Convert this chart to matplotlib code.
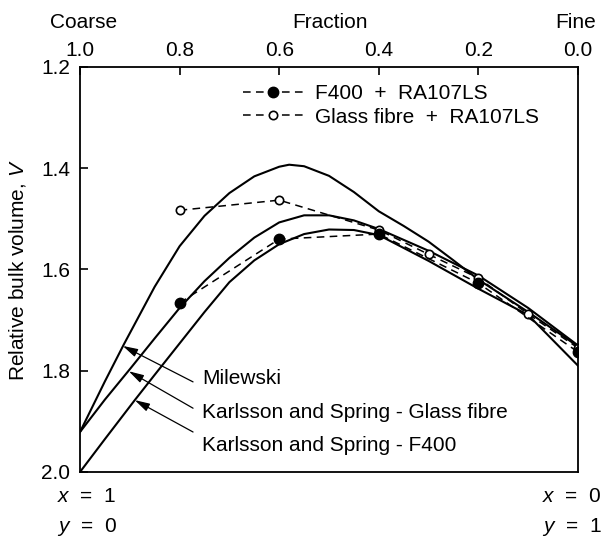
import matplotlib
matplotlib.use("Agg")
import matplotlib.pyplot as plt
from matplotlib.lines import Line2D

plt.rcParams['font.family'] = ['Liberation Sans', 'DejaVu Sans']
plt.rcParams['mathtext.fontset'] = 'custom'
plt.rcParams['mathtext.it'] = 'Liberation Sans:italic'
plt.rcParams['mathtext.rm'] = 'Liberation Sans'

# model curves: coarse fraction vs relative bulk volume
frac_mil = [1.0, 0.95, 0.912, 0.85, 0.80, 0.75, 0.70, 0.65, 0.60, 0.58, 0.55, 0.50,
            0.45, 0.40, 0.35, 0.30, 0.25, 0.20, 0.10, 0.0]
v_mil = [1.921, 1.821, 1.748, 1.634, 1.554, 1.494, 1.449, 1.416, 1.397, 1.393, 1.396, 1.415,
         1.447, 1.485, 1.514, 1.545, 1.582, 1.620, 1.684, 1.752]

frac_ksg = [1.0, 0.95, 0.90, 0.85, 0.80, 0.75, 0.70, 0.65, 0.60, 0.55, 0.50, 0.45,
            0.40, 0.30, 0.20, 0.10, 0.0]
v_ksg = [1.921, 1.857, 1.797, 1.736, 1.676, 1.623, 1.577, 1.537, 1.507, 1.493, 1.493, 1.503,
         1.520, 1.563, 1.612, 1.676, 1.750]

frac_ksf = [1.0, 0.95, 0.89, 0.85, 0.80, 0.75, 0.70, 0.65, 0.60, 0.55, 0.50, 0.45,
            0.40, 0.30, 0.20, 0.10, 0.0]
v_ksf = [2.0, 1.935, 1.858, 1.808, 1.746, 1.684, 1.625, 1.582, 1.550, 1.530, 1.521, 1.522,
         1.532, 1.583, 1.638, 1.690, 1.790]

# measured mixes
frac_f400 = [0.8, 0.6, 0.4, 0.2, 0.0]
v_f400 = [1.666, 1.540, 1.530, 1.627, 1.763]
frac_glass = [0.8, 0.6, 0.4, 0.3, 0.2, 0.1, 0.0]
v_glass = [1.483, 1.463, 1.522, 1.570, 1.617, 1.688, 1.755]

xticks = [1.0, 0.8, 0.6, 0.4, 0.2, 0.0]
yticks = [1.2, 1.4, 1.6, 1.8, 2.0]

fs = 15

fig = plt.figure(figsize=(6.06, 5.37), dpi=100)
ax = fig.add_axes([80/606, 1-472/537, 498/606, 405/537])

ax.plot(frac_mil, v_mil, 'k-', lw=1.5)
ax.plot(frac_ksg, v_ksg, 'k-', lw=1.5)
ax.plot(frac_ksf, v_ksf, 'k-', lw=1.5)

dash = (5, 3.5)
ax.plot(frac_glass, v_glass, color='k', ls='--', dashes=dash, lw=1.1,
        marker='o', ms=6, mfc='white', mec='k', mew=1.2)
ax.plot(frac_f400, v_f400, color='k', ls='--', dashes=dash, lw=1.1,
        marker='o', ms=7.5, mfc='k', mec='k')

ax.set_xlim(1.0, 0.0)
ax.set_ylim(2.0, 1.2)
ax.xaxis.tick_top()
ax.set_xticks(xticks)
ax.set_xticklabels(['%.1f' % t for t in xticks])
ax.set_yticks(yticks)
ax.set_yticklabels(['%.1f' % t for t in yticks])
ax.tick_params(axis='x', direction='in', length=6, width=1.2, pad=5, labelsize=fs)
ax.tick_params(axis='y', direction='in', length=6, width=1.2, pad=7, labelsize=fs)
for s in ax.spines.values():
    s.set_linewidth(1.3)

handles = [
    Line2D([], [], color='k', ls='--', dashes=dash, lw=1.1, marker='o', ms=7.5, mfc='k', mec='k'),
    Line2D([], [], color='k', ls='--', dashes=dash, lw=1.1, marker='o', ms=6, mfc='white', mec='k', mew=1.2),
]
ax.legend(handles, ['F400  +  RA107LS', 'Glass fibre  +  RA107LS'], loc='upper left',
          bbox_to_anchor=(243/606, 1-84/537), bbox_transform=fig.transFigure,
          frameon=False, fontsize=fs, numpoints=1, handlelength=2.9, handletextpad=0.55,
          borderpad=0, borderaxespad=0, labelspacing=0.22)

# labels with arrows pointing at the model curves
notes = [('Milewski', 1.816, (0.914, 1.751), (0.773, 1.822)),
         ('Karlsson and Spring - Glass fibre', 1.883, (0.902, 1.801), (0.773, 1.874)),
         ('Karlsson and Spring - F400', 1.947, (0.890, 1.858), (0.773, 1.921))]
for txt, ty, tip, tail in notes:
    ax.text(0.755, ty, txt, fontsize=fs, ha='left', va='center')
    ax.annotate('', xy=tip, xytext=tail,
                arrowprops=dict(arrowstyle='-|>,head_length=0.9,head_width=0.25',
                                color='k', lw=0.9, shrinkA=0, shrinkB=0))

fig.text(18/606, 1-270/537, 'Relative bulk volume, $V$', rotation=90,
         ha='center', va='center', fontsize=fs)
fig.text(84/606, 1-22/537, 'Coarse', ha='center', va='center', fontsize=fs)
fig.text(330/606, 1-22/537, 'Fraction', ha='center', va='center', fontsize=fs)
fig.text(596/606, 1-22/537, 'Fine', ha='right', va='center', fontsize=fs)

fig.text(57/606, 1-497/537, '$x$  =  1', ha='left', va='center', fontsize=fs)
fig.text(57/606, 1-527/537, '$y$  =  0', ha='left', va='center', fontsize=fs)
fig.text(602/606, 1-497/537, '$x$  =  0', ha='right', va='center', fontsize=fs)
fig.text(602/606, 1-527/537, '$y$  =  1', ha='right', va='center', fontsize=fs)

plt.savefig('out.png', dpi=100)
plt.close()
